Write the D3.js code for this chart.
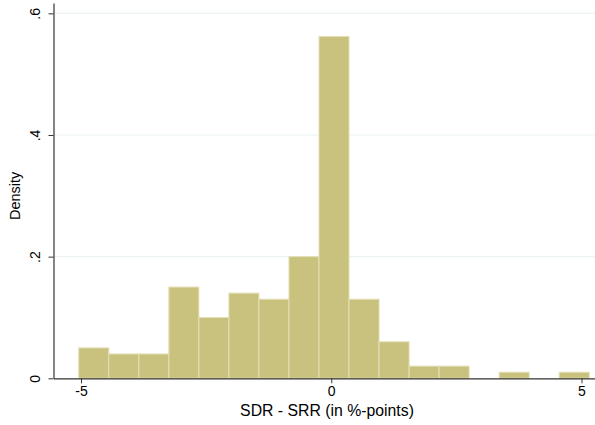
<!DOCTYPE html>
<html><head><meta charset="utf-8">
<script src="https://cdn.jsdelivr.net/npm/d3@7"></script>
<style>body{margin:0;background:#fff}svg{display:block}text{font-family:"Liberation Sans",Arial,sans-serif;fill:#000}</style>
</head><body>
<svg id="c" width="595" height="425"></svg>
<script>
const binStart = -5.045;
const binWidth = 0.6;
const densities = [0.05,0.04,0.04,0.15,0.10,0.14,0.13,0.20,0.562,0.13,0.06,0.02,0.02,0,0.01,0,0.01];
const xTicks = [-5,0,5];
const xTickLabels = ["-5","0","5"];
const yTicks = [0,0.2,0.4,0.6];
const yTickLabels = ["0",".2",".4",".6"];
const xTitle = "SDR - SRR (in %-points)";
const yTitle = "Density";

const svg = d3.select("#c");
const x = d3.scaleLinear().domain([-5.55,5.27]).range([53.5,595]);
const y = d3.scaleLinear().domain([0,0.617]).range([378.3,3]);

// gridlines
svg.append("g").selectAll("line").data(yTicks.filter(d=>d>0)).join("line")
  .attr("x1",53.5).attr("x2",595).attr("y1",d=>y(d)).attr("y2",d=>y(d))
  .attr("stroke","#eaf2f3").attr("stroke-width",1.2);

// bars
const bins = densities.map((d,i)=>({x0:binStart+i*binWidth,x1:binStart+(i+1)*binWidth,v:d}));
svg.append("g").selectAll("rect").data(bins.filter(b=>b.v>0)).join("rect")
  .attr("x",b=>x(b.x0)).attr("width",b=>x(b.x1)-x(b.x0))
  .attr("y",b=>y(b.v)).attr("height",b=>y(0)-y(b.v))
  .attr("fill","#c9c27f").attr("stroke","#e4dfb5").attr("stroke-width",1);

// x axis
const xa = svg.append("g").attr("transform",`translate(0,${y(0)})`)
  .call(d3.axisBottom(x).tickValues(xTicks).tickFormat((d,i)=>xTickLabels[i]).tickSize(5).tickPadding(3).tickSizeOuter(0));
xa.select(".domain").attr("stroke","#333").attr("stroke-width",1.2);
xa.selectAll(".tick line").attr("stroke","#333");
xa.selectAll(".tick text").attr("font-size",14).attr("fill","#000");

// y axis
const ya = svg.append("g").attr("transform",`translate(${x.range()[0]},0)`)
  .call(d3.axisLeft(y).tickValues(yTicks).tickFormat((d,i)=>yTickLabels[i]).tickSize(5).tickSizeOuter(0));
ya.select(".domain").attr("stroke","#333").attr("stroke-width",1.2);
ya.selectAll(".tick line").attr("stroke","#333");
ya.selectAll(".tick text").attr("font-size",14).attr("fill","#000")
  .attr("text-anchor","middle").attr("transform","rotate(-90)")
  .attr("x",0).attr("y",-14).attr("dy","0");

// titles
svg.append("text").attr("x",327).attr("y",416).attr("text-anchor","middle")
  .attr("font-size",15.8).text(xTitle);
svg.append("text").attr("transform",`translate(20,${(y(0)+y(0.6))/2}) rotate(-90)`)
  .attr("text-anchor","middle").attr("font-size",14.5).text(yTitle);
</script>
</body></html>
